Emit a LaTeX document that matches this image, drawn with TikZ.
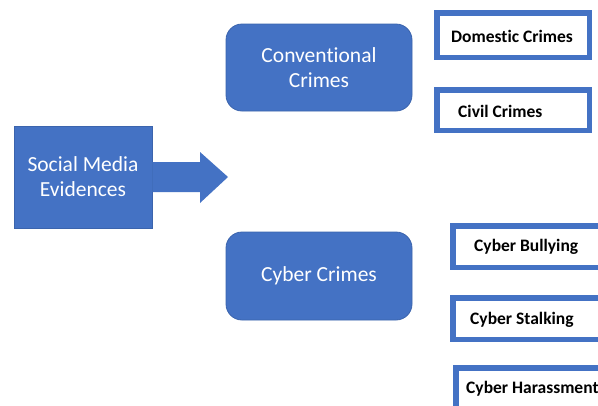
\documentclass[tikz,border=0pt]{standalone}
\usepackage{fontspec}
\setmainfont{Carlito}[Ligatures={NoCommon}]
\definecolor{officeblue}{HTML}{4472C4}
\definecolor{officeedge}{HTML}{3B64AD}
\begin{document}
\begin{tikzpicture}[x=1pt,y=-1pt,
  bigbox/.style={fill=officeblue,draw=officeedge,line width=0.8pt,text=white,font=\fontsize{21.5}{25}\selectfont,align=center,inner sep=0pt},
  smallbox/.style={draw=officeblue,line width=5.5pt,fill=white,inner sep=0pt},
  smalltext/.style={font=\bfseries\fontsize{17.5}{20}\selectfont,anchor=west,inner sep=0pt}]
\fill[white] (0,0) rectangle (598,405);
\useasboundingbox (0,0) rectangle (598,405);
\begin{scope}
\clip (0,0) rectangle (598,405);
% source box
\node[bigbox,minimum width=138pt,minimum height=102pt] (sm) at (83,177) {Social Media\\Evidences};
% block arrow
\fill[officeblue] (sm.east |- 0,162) coordinate (a1) -- (200,162) -- (200,152) -- (228,177) coordinate (tip) -- (200,203) -- (200,192) -- (sm.east |- 0,192) -- cycle;
% category boxes
\node[bigbox,rounded corners=16pt,minimum width=186pt,minimum height=87pt] (conv) at (319,67.5) {Conventional\\Crimes};
\node[bigbox,rounded corners=16pt,minimum width=186pt,minimum height=88pt] (cyber) at (319,276) {Cyber Crimes};
% leaf boxes
\node[smallbox,minimum width=152.5pt,minimum height=44.5pt] (dom) at (513,35) {};
\node[smalltext] at (451,36) {Domestic Crimes};
\node[smallbox,minimum width=152.5pt,minimum height=40.5pt] (civ) at (513,110) {};
\node[smalltext] at (458,111) {Civil Crimes};
\node[smallbox,minimum width=200pt,minimum height=41.5pt] (bul) at (553,246.5) {};
\node[smalltext] at (474,247) {Cyber Bullying};
\node[smallbox,minimum width=200pt,minimum height=41.5pt] (stk) at (553,318.5) {};
\node[smalltext] at (470,320) {Cyber Stalking};
\node[smallbox,minimum width=200pt,minimum height=41.5pt] (har) at (556,388.5) {};
\node[smalltext] at (466,389) {Cyber Harassment};
\end{scope}
\end{tikzpicture}
\end{document}
